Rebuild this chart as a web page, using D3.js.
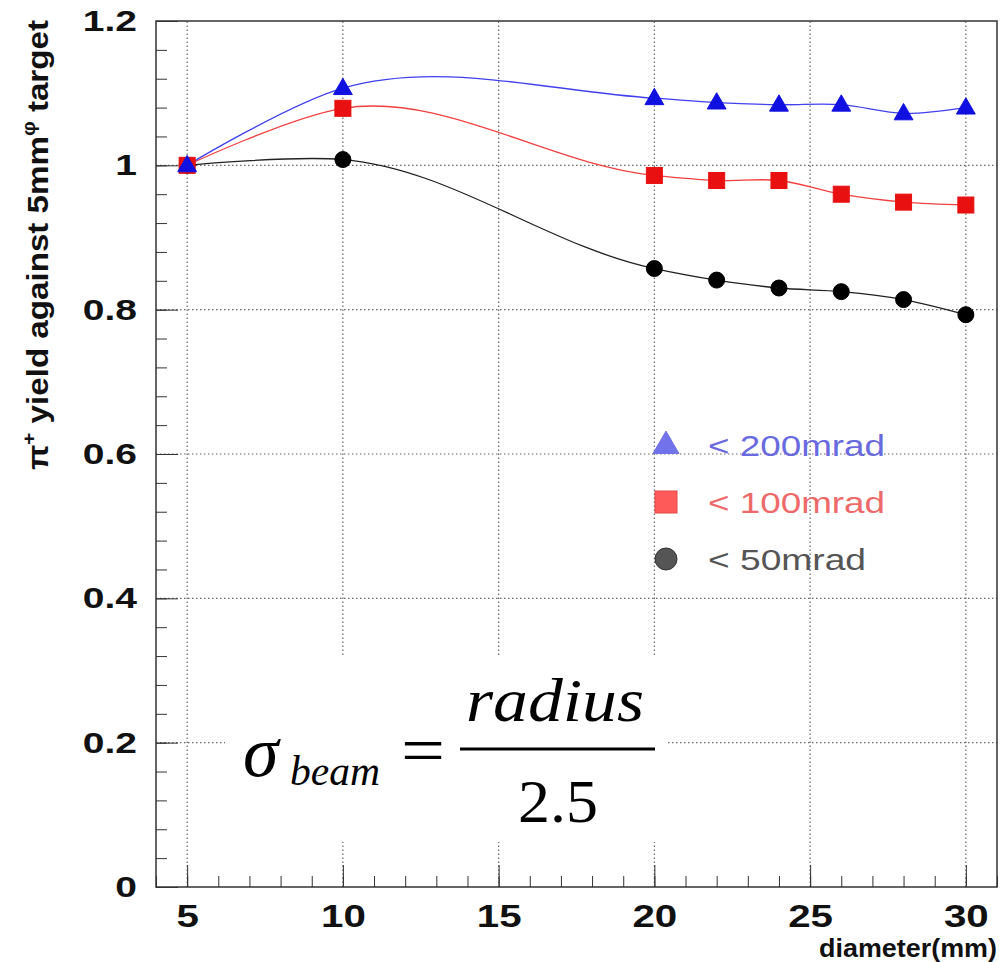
<!DOCTYPE html>
<html>
<head>
<meta charset="utf-8">
<script src="https://cdn.jsdelivr.net/npm/d3@7"></script>
<style>
  body { margin: 0; background: #fff; }
  svg { display: block; }
</style>
</head>
<body>
<div id="chart"></div>
<script>
// Data
const diameters = [5, 10, 20, 22, 24, 26, 28, 30]
const yield200 = [1.0, 1.107, 1.093, 1.087, 1.084, 1.084, 1.072, 1.080]
const yield100 = [1.0, 1.079, 0.986, 0.979, 0.979, 0.960, 0.949, 0.945]
const yield50 = [1.0, 1.008, 0.857, 0.841, 0.830, 0.825, 0.814, 0.793]
const xTicks = [5, 10, 15, 20, 25, 30]
const yTicks = [0, 0.2, 0.4, 0.6, 0.8, 1, 1.2]
const legendLabels = ['< 200mrad', '< 100mrad', '< 50mrad']

const series = [
    { key: '50', values: yield50, color: '#000', line: '#222', shape: 'circle' },
    { key: '100', values: yield100, color: '#e81010', line: '#f04040', shape: 'square' },
    { key: '200', values: yield200, color: '#1010e0', line: '#4040f0', shape: 'triangle' }
]

const width = 1000
const height = 962
const svg = d3.select('#chart').append('svg')
    .attr('width', width)
    .attr('height', height)
    .style('font-family', '"Liberation Sans", Arial, sans-serif')

svg.append('rect').attr('width', width).attr('height', height).attr('fill', '#fff')

// Presentation
const margin = { top: 21, right: 3, bottom: 75, left: 156 }
const x = d3.scaleLinear().domain([4, 31]).range([margin.left, width - margin.right])
const y = d3.scaleLinear().domain([0, 1.2]).range([height - margin.bottom, margin.top])
const stretch = 1.3

// Grid
const grid = svg.append('g').attr('class', 'grid')
    .attr('stroke', '#666').attr('stroke-width', 1.2).attr('stroke-dasharray', '1.5,2.5')
grid.selectAll('line.vx').data(xTicks).join('line')
    .attr('x1', d => x(d)).attr('x2', d => x(d))
    .attr('y1', y.range()[0]).attr('y2', y.range()[1])
grid.selectAll('line.hy').data(yTicks.filter(d => d > 0 && d < 1.2)).join('line')
    .attr('class', 'hy')
    .attr('x1', x.range()[0]).attr('x2', x.range()[1])
    .attr('y1', d => y(d)).attr('y2', d => y(d))

// Axes
const minorX = d3.range(4, 31.01, 1)
const minorY = d3.range(0, 1.2001, 0.04)

const xAxisG = svg.append('g').attr('transform', `translate(0,${y(0)})`)
xAxisG.call(d3.axisBottom(x).tickValues(minorX).tickSizeInner(-11).tickSizeOuter(0).tickFormat(''))
xAxisG.append('g').call(d3.axisBottom(x).tickValues(xTicks).tickSizeInner(-22).tickSizeOuter(0).tickPadding(18))
xAxisG.selectAll('.domain').remove()
xAxisG.selectAll('text')
    .attr('font-size', 31).attr('font-weight', 'bold').attr('fill', '#111')
    .attr('transform', `scale(${stretch},1)`)
xAxisG.selectAll('line').attr('stroke', '#333')

const yAxisG = svg.append('g').attr('transform', `translate(${x.range()[0]},0)`)
yAxisG.call(d3.axisLeft(y).tickValues(minorY).tickSizeInner(-11).tickSizeOuter(0).tickFormat(''))
yAxisG.append('g').call(d3.axisLeft(y).tickValues(yTicks).tickSizeInner(-22).tickSizeOuter(0).tickFormat(d3.format('~g')))
yAxisG.selectAll('.domain').remove()
yAxisG.selectAll('text')
    .attr('x', -19 / stretch)
    .attr('font-size', 30).attr('font-weight', 'bold').attr('fill', '#111')
    .attr('transform', `scale(${stretch},1)`)
yAxisG.selectAll('line').attr('stroke', '#333')

// Frame
svg.append('rect')
    .attr('x', x.range()[0]).attr('y', y.range()[1])
    .attr('width', x.range()[1] - x.range()[0]).attr('height', y.range()[0] - y.range()[1])
    .attr('fill', 'none').attr('stroke', '#333').attr('stroke-width', 1.5)

// Curves and markers
const line = d3.line()
    .x(d => x(d[0]))
    .y(d => y(d[1]))
    .curve(d3.curveCatmullRom.alpha(1))

function drawMarker(g, shape, cx, cy, fill, stroke, r) {
    if (shape === 'circle') {
        g.append('circle').attr('cx', cx).attr('cy', cy).attr('r', r).attr('fill', fill).attr('stroke', stroke)
    } else if (shape === 'square') {
        g.append('rect').attr('x', cx - r).attr('y', cy - r).attr('width', 2 * r).attr('height', 2 * r)
            .attr('fill', fill).attr('stroke', stroke)
    } else {
        const tri = d3.symbol().type(d3.symbolTriangle).size(r * r * 2.4)
        g.append('path').attr('d', tri).attr('transform', `translate(${cx},${cy + 1})`)
            .attr('fill', fill).attr('stroke', stroke)
    }
}

series.forEach(s => {
    const pts = diameters.map((d, i) => [d, s.values[i]])
    svg.append('path').datum(pts)
        .attr('d', line)
        .attr('fill', 'none').attr('stroke', s.line).attr('stroke-width', 1.3)
})
series.forEach(s => {
    const g = svg.append('g').attr('class', `markers m${s.key}`)
    diameters.forEach((d, i) => drawMarker(g, s.shape, x(d), y(s.values[i]), s.color, s.color, 8))
})

// Legend
const legendItems = [
    { label: legendLabels[0], shape: 'triangle', fill: '#7272ea', stroke: '#7272ea', text: '#6a6ae0' },
    { label: legendLabels[1], shape: 'square', fill: '#ff5a5a', stroke: '#e04848', text: '#ee6a6a' },
    { label: legendLabels[2], shape: 'circle', fill: '#555', stroke: '#333', text: '#555' }
]
const legend = svg.append('g').attr('class', 'legend')
legendItems.forEach((item, i) => {
    const ly = 445 + i * 57
    drawMarker(legend, item.shape, 666, ly, item.fill, item.stroke, 11)
    legend.append('text')
        .attr('x', 708).attr('y', ly + 11)
        .attr('font-size', 29).attr('fill', item.text)
        .attr('textLength', [177, 177, 158][i]).attr('lengthAdjust', 'spacingAndGlyphs')
        .text(item.label)
})

// Formula inset
const formula = svg.append('g').attr('font-family', '"Liberation Serif", "Times New Roman", serif')
formula.append('rect').attr('x', 225).attr('y', 655).attr('width', 443).attr('height', 187).attr('fill', '#fff')
formula.append('text').attr('x', 243).attr('y', 776)
    .attr('font-size', 72).attr('font-style', 'italic').text('σ')
formula.append('text').attr('x', 290).attr('y', 785)
    .attr('font-size', 42).attr('font-style', 'italic')
    .attr('textLength', 90).attr('lengthAdjust', 'spacingAndGlyphs').text('beam')
formula.append('text').attr('x', 401).attr('y', 773)
    .attr('font-size', 68).attr('textLength', 44).attr('lengthAdjust', 'spacingAndGlyphs').text('=')
formula.append('text').attr('x', 466).attr('y', 721)
    .attr('font-size', 62).attr('font-style', 'italic')
    .attr('textLength', 178).attr('lengthAdjust', 'spacingAndGlyphs').text('radius')
formula.append('line').attr('x1', 460).attr('x2', 655).attr('y1', 749).attr('y2', 749)
    .attr('stroke', '#000').attr('stroke-width', 3)
formula.append('text').attr('x', 518).attr('y', 822)
    .attr('font-size', 62).attr('textLength', 80).attr('lengthAdjust', 'spacingAndGlyphs').text('2.5')

// Axis titles
svg.append('text')
    .attr('x', 997).attr('y', 957)
    .attr('text-anchor', 'end')
    .attr('font-size', 25).attr('font-weight', 'bold').attr('fill', '#111')
    .attr('textLength', 178).attr('lengthAdjust', 'spacingAndGlyphs')
    .text('diameter(mm)')

const yTitle = svg.append('text')
    .attr('transform', 'translate(48,470) rotate(-90)')
    .attr('font-size', 29).attr('font-weight', 'bold').attr('fill', '#111')
    .attr('textLength', 450).attr('lengthAdjust', 'spacingAndGlyphs')
yTitle.append('tspan').text('π')
yTitle.append('tspan').attr('dy', -13).attr('font-size', 18).text('+')
yTitle.append('tspan').attr('dy', 13).text(' yield against 5mm')
yTitle.append('tspan').attr('dy', -13).attr('font-size', 18).text('φ')
yTitle.append('tspan').attr('dy', 13).text(' target')
</script>
</body>
</html>
